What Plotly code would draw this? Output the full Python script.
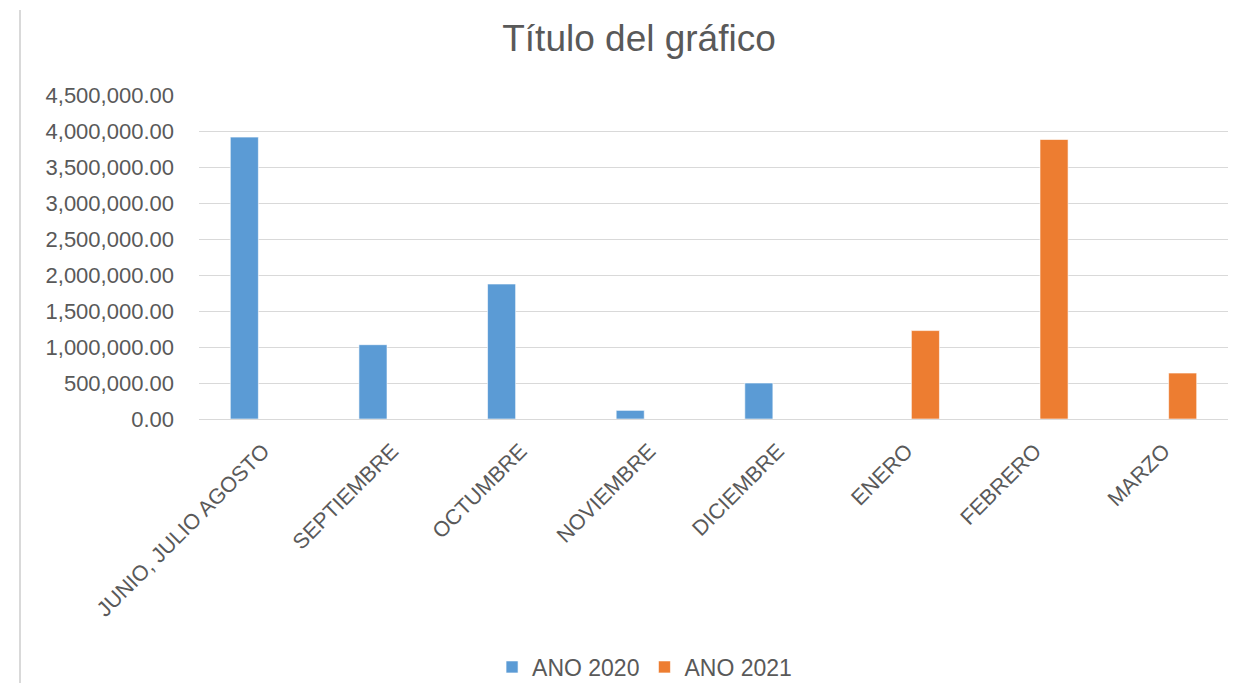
import plotly.graph_objects as go

categories = ["JUNIO, JULIO AGOSTO", "SEPTIEMBRE", "OCTUMBRE", "NOVIEMBRE",
              "DICIEMBRE", "ENERO", "FEBRERO", "MARZO"]
ano_2020 = [3915000, 1032000, 1875000, 120000, 500000, None, None, None]
ano_2021 = [None, None, None, None, None, 1228000, 3882000, 638000]

FONT = "Liberation Sans, Arial, sans-serif"
GRAY = "#595959"

# page body has an 8px margin, so the figure is laid out in shifted coordinates
W, H = 1236, 675
L, R, T, B = 191, 16, 87, 264
PW = W - L - R
PH = H - T - B

fig = go.Figure()
fig.add_trace(go.Bar(x=categories, y=ano_2020, name="ANO 2020",
                     marker=dict(color="#5B9BD5", line=dict(color="rgba(255,255,255,0.6)", width=1))))
fig.add_trace(go.Bar(x=categories, y=ano_2021, name="ANO 2021",
                     marker=dict(color="#ED7D31", line=dict(color="rgba(255,255,255,0.6)", width=1))))

fig.update_layout(
    width=W, height=H,
    margin=dict(l=L, r=R, t=T, b=B, autoexpand=False),
    paper_bgcolor="white", plot_bgcolor="white",
    barmode="group", bargap=0.41, bargroupgap=0.26,
    font=dict(family=FONT, size=21, color=GRAY),
    title=dict(text="Título del gráfico", x=631 / W, xref="container", xanchor="center",
               y=1 - 30 / H, yref="container", yanchor="middle",
               font=dict(family=FONT, size=37, color=GRAY)),
    showlegend=True,
    legend=dict(orientation="h", x=0.433, xanchor="center",
                y=1 - 659 / H, yref="container", yanchor="middle",
                font=dict(family=FONT, size=23, color=GRAY), traceorder="normal",
                itemwidth=30),
    shapes=[dict(type="line", xref="paper", yref="paper",
                 x0=(12 - L) / PW, x1=(12 - L) / PW,
                 y0=(T + PH - 2) / PH, y1=(T + PH - H - 10) / PH,
                 line=dict(color="#d9d9d9", width=2))],
)
fig.update_yaxes(range=[0, 4500000], dtick=500000, tick0=0, tickformat=",.2f",
                 showgrid=True, gridcolor="#d9d9d9", gridwidth=1,
                 zeroline=True, zerolinecolor="#d9d9d9", zerolinewidth=1,
                 showline=False, ticks="", ticklabelstandoff=24,
                 tickfont=dict(family=FONT, size=22, color=GRAY))
fig.update_xaxes(tickangle=-45, showgrid=False, showline=True, linecolor="#d9d9d9",
                 ticks="", ticklabelstandoff=10,
                 tickfont=dict(family=FONT, size=21.5, color=GRAY))

fig.write_html("out.html")
